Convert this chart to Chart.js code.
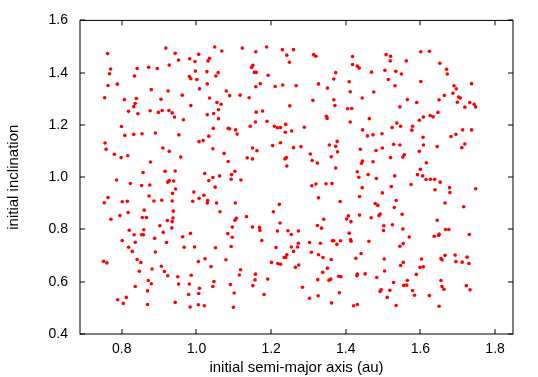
<!DOCTYPE html>
<html>
<head>
<meta charset="utf-8">
<script src="https://cdn.jsdelivr.net/npm/chart.js@4.4.1/dist/chart.umd.min.js"></script>
<style>
  html, body { margin: 0; padding: 0; background: #fff; }
  #wrap { width: 538px; height: 377px; }
</style>
</head>
<body>
<div id="wrap"><canvas id="orbitChart" width="538" height="377"></canvas></div>
<script>
// tick values for both axes
const xTicks = [0.8, 1, 1.2, 1.4, 1.6, 1.8];
const yTicks = [0.4, 0.6, 0.8, 1, 1.2, 1.4, 1.6];

// [initial semi-major axis (au), initial inclination]
const initialOrbits = [
  [0.918,1.494],[0.943,1.474],[0.762,1.473],[1.006,1.470],[0.952,1.448],[0.982,1.453],[0.996,1.443],[0.770,1.414],
  [0.841,1.416],[0.872,1.421],[0.895,1.416],[0.927,1.429],[0.767,1.396],[0.997,1.406],[0.834,1.387],[0.981,1.385],
  [0.985,1.377],[1.001,1.374],[0.788,1.356],[0.763,1.351],[1.008,1.338],[0.879,1.335],[0.924,1.330],[0.962,1.314],
  [0.754,1.304],[0.807,1.297],[0.839,1.301],[0.905,1.298],[0.836,1.282],[0.832,1.270],[0.985,1.274],[0.818,1.252],
  [0.843,1.243],[0.876,1.254],[0.898,1.248],[0.908,1.255],[0.926,1.255],[0.935,1.246],[0.941,1.230],[0.965,1.220],
  [0.799,1.194],
  [1.049,1.498],[1.123,1.494],[1.188,1.498],[1.068,1.483],[1.159,1.480],[1.230,1.488],[1.260,1.488],[1.242,1.467],
  [1.035,1.455],[1.031,1.445],[1.249,1.440],[1.151,1.428],[1.148,1.420],[1.028,1.404],[1.058,1.400],[1.155,1.401],
  [1.160,1.401],[1.052,1.387],[1.192,1.390],[1.029,1.357],[1.171,1.358],[1.159,1.346],[1.211,1.347],[1.231,1.353],
  [1.267,1.350],[1.080,1.330],[1.089,1.312],[1.117,1.314],[1.141,1.304],[1.035,1.303],[1.055,1.286],[1.066,1.279],
  [1.250,1.273],[1.059,1.258],[1.160,1.249],[1.177,1.253],[1.046,1.244],[1.029,1.239],[1.059,1.224],[1.158,1.211],
  [1.189,1.214],[1.045,1.187],[1.085,1.187],[1.089,1.185],[1.105,1.181],[1.144,1.195],[1.209,1.195],[1.217,1.189],
  [1.225,1.190],[1.239,1.202],[1.255,1.177],[1.238,1.172],[1.289,1.191],
  [1.314,1.469],[1.320,1.463],[1.418,1.462],[1.508,1.469],[1.520,1.463],[1.519,1.445],[1.562,1.445],[1.418,1.431],
  [1.431,1.425],[1.436,1.418],[1.373,1.400],[1.469,1.402],[1.505,1.409],[1.534,1.405],[1.549,1.395],[1.368,1.376],
  [1.514,1.374],[1.327,1.357],[1.409,1.365],[1.351,1.341],[1.532,1.350],[1.412,1.327],[1.475,1.326],[1.444,1.303],
  [1.312,1.294],[1.368,1.296],[1.565,1.297],[1.371,1.274],[1.545,1.269],[1.405,1.262],[1.416,1.263],[1.348,1.233],
  [1.350,1.225],[1.463,1.224],[1.412,1.211],[1.537,1.207],[1.547,1.195],[1.524,1.190],[1.445,1.181],
  [1.601,1.480],[1.624,1.482],[1.652,1.436],[1.670,1.413],[1.672,1.395],[1.601,1.366],[1.737,1.358],[1.690,1.350],
  [1.696,1.338],[1.687,1.321],[1.664,1.313],[1.650,1.296],[1.702,1.307],[1.707,1.303],[1.699,1.287],[1.590,1.286],
  [1.732,1.286],[1.744,1.279],[1.748,1.269],[1.719,1.268],[1.647,1.248],[1.626,1.236],[1.634,1.231],[1.608,1.230],
  [1.597,1.218],[1.579,1.195],[1.577,1.180],[1.713,1.181],[1.737,1.181],
  [0.808,1.160],[0.832,1.164],[0.854,1.166],[0.890,1.169],[0.953,1.162],[0.755,1.131],[0.758,1.107],[0.910,1.112],
  [0.927,1.099],[1.007,1.136],[0.780,1.088],[0.798,1.075],[0.816,1.082],[0.958,1.077],[0.877,1.058],[0.857,1.018],
  [0.916,1.023],[0.943,1.024],[0.786,0.989],[0.823,0.976],[0.853,0.968],[0.875,0.970],[0.923,0.981],[0.927,0.987],
  [0.939,0.985],[0.944,0.955],[0.936,0.938],[0.993,0.943],[0.763,0.922],[0.753,0.902],[0.801,0.906],[0.815,0.908],
  [0.873,0.928],[0.886,0.909],[0.907,0.912],[0.935,0.909],[0.990,0.908],[1.007,0.919],[0.860,0.874],[0.938,0.870],
  [0.817,0.865],[0.795,0.853],[0.771,0.839],[0.855,0.846],[0.866,0.846],[0.922,0.834],[0.935,0.830],[0.937,0.844],
  [0.902,0.814],
  [1.018,1.140],[1.033,1.157],[1.109,1.165],[1.044,1.109],[1.074,1.091],[1.085,1.060],[1.150,1.112],[1.162,1.101],
  [1.136,1.074],[1.150,1.070],[1.204,1.121],[1.225,1.132],[1.260,1.113],[1.280,1.117],[1.237,1.070],[1.241,1.075],
  [1.242,1.043],[1.022,1.014],[1.033,0.987],[1.044,0.999],[1.062,1.005],[1.094,1.010],[1.103,1.023],[1.093,0.992],
  [1.119,0.989],[1.050,0.962],[1.020,0.931],[1.030,0.911],[1.029,0.901],[1.054,0.901],[1.104,0.901],[1.063,0.868],
  [1.222,0.896],[1.206,0.868],[1.134,0.849],[1.107,0.843],[1.103,0.835],[1.224,0.825],
  [1.458,1.158],[1.473,1.162],[1.497,1.166],[1.377,1.137],[1.356,1.123],[1.373,1.118],[1.378,1.097],[1.305,1.089],
  [1.361,1.078],[1.310,1.064],[1.324,1.054],[1.439,1.107],[1.481,1.102],[1.498,1.112],[1.528,1.126],[1.545,1.123],
  [1.557,1.086],[1.553,1.077],[1.520,1.075],[1.445,1.062],[1.442,1.053],[1.473,1.059],[1.373,1.035],[1.431,1.021],
  [1.460,1.010],[1.435,1.000],[1.482,0.995],[1.531,1.005],[1.309,0.967],[1.320,0.974],[1.347,0.975],[1.363,0.976],
  [1.444,0.960],[1.498,0.940],[1.522,0.964],[1.327,0.921],[1.385,0.907],[1.437,0.926],[1.479,0.899],[1.486,0.892],
  [1.535,0.911],[1.530,0.884],[1.551,0.858],[1.407,0.852],[1.402,0.840],[1.414,0.830],[1.437,0.855],[1.468,0.845],
  [1.492,0.859],[1.489,0.853],[1.341,0.839],[1.324,0.815],[1.502,0.814],[1.525,0.818],
  [1.607,1.153],[1.682,1.156],[1.695,1.164],[1.608,1.123],[1.645,1.117],[1.597,1.099],[1.711,1.113],[1.719,1.127],
  [1.616,1.055],[1.600,1.030],[1.592,1.010],[1.606,1.005],[1.615,0.991],[1.627,0.992],[1.638,0.992],[1.653,0.981],
  [1.575,0.972],[1.639,0.952],[1.678,0.960],[1.679,0.941],[1.748,0.956],[1.666,0.901],[1.716,0.887],[1.645,0.835],
  [0.820,0.797],[0.859,0.799],[0.934,0.806],[0.833,0.780],[0.853,0.780],[0.858,0.780],[0.911,0.789],[0.984,0.785],
  [0.801,0.758],[0.836,0.751],[0.888,0.766],[0.920,0.750],[0.963,0.772],[0.818,0.732],[0.828,0.716],[0.890,0.714],
  [0.967,0.732],[0.995,0.733],[0.751,0.678],[0.760,0.672],[0.841,0.685],[0.851,0.674],[1.005,0.677],[0.847,0.640],
  [0.881,0.649],[0.906,0.659],[0.914,0.639],[0.923,0.623],[0.950,0.619],[0.986,0.625],[0.871,0.605],[0.879,0.592],
  [0.836,0.582],[0.869,0.565],[0.952,0.591],[0.981,0.591],[1.008,0.575],[0.979,0.551],[1.006,0.555],[0.812,0.540],
  [0.789,0.531],[0.804,0.517],[0.869,0.513],[0.943,0.521],[0.983,0.503],[1.005,0.512],
  [1.096,0.809],[1.150,0.809],[1.169,0.808],[1.170,0.796],[1.217,0.794],[1.245,0.795],[1.273,0.794],[1.084,0.784],
  [1.096,0.770],[1.254,0.781],[1.175,0.758],[1.051,0.730],[1.093,0.735],[1.213,0.731],[1.254,0.733],[1.271,0.733],
  [1.273,0.747],[1.260,0.716],[1.023,0.688],[1.079,0.684],[1.242,0.703],[1.235,0.693],[1.239,0.693],[1.039,0.658],
  [1.201,0.674],[1.218,0.670],[1.225,0.667],[1.274,0.664],[1.265,0.655],[1.118,0.646],[1.158,0.629],[1.115,0.626],
  [1.157,0.607],[1.191,0.610],[1.047,0.601],[1.044,0.582],[1.091,0.589],[1.151,0.585],[1.101,0.557],[1.181,0.551],
  [1.284,0.579],[1.021,0.508],[1.099,0.502],
  [1.335,0.805],[1.501,0.796],[1.553,0.802],[1.409,0.786],[1.303,0.750],[1.332,0.747],[1.364,0.757],[1.368,0.757],
  [1.386,0.757],[1.413,0.761],[1.414,0.755],[1.376,0.743],[1.462,0.755],[1.570,0.771],[1.554,0.746],[1.545,0.736],
  [1.308,0.713],[1.327,0.703],[1.339,0.693],[1.361,0.685],[1.427,0.690],[1.441,0.708],[1.503,0.687],[1.554,0.674],
  [1.547,0.662],[1.351,0.652],[1.338,0.636],[1.504,0.641],[1.431,0.629],[1.430,0.623],[1.381,0.621],[1.387,0.619],
  [1.452,0.630],[1.483,0.616],[1.325,0.608],[1.355,0.606],[1.360,0.610],[1.528,0.597],[1.565,0.605],[1.555,0.586],
  [1.563,0.587],[1.495,0.569],[1.492,0.563],[1.518,0.567],[1.383,0.558],[1.303,0.537],[1.326,0.546],[1.511,0.540],
  [1.362,0.519],[1.421,0.508],[1.431,0.513],[1.535,0.509],
  [1.667,0.800],[1.676,0.800],[1.650,0.782],[1.649,0.777],[1.637,0.774],[1.731,0.781],[1.603,0.687],[1.655,0.689],
  [1.658,0.683],[1.666,0.701],[1.693,0.702],[1.695,0.677],[1.712,0.675],[1.725,0.694],[1.730,0.670],[1.599,0.655],
  [1.608,0.657],[1.589,0.628],[1.655,0.605],[1.658,0.582],[1.663,0.571],[1.723,0.585],[1.733,0.569],[1.579,0.566],
  [1.584,0.548],[1.624,0.547],[1.650,0.506]
];

const FONT = "'Liberation Sans', Arial, sans-serif";

// gnuplot style box with inward ticks on all four sides
const framePlugin = {
  id: 'frame',
  afterDraw(chart) {
    const { ctx, chartArea: a, scales } = chart;
    const tick = 5;
    ctx.save();
    ctx.strokeStyle = '#000';
    ctx.lineWidth = 1;
    ctx.beginPath();
    xTicks.forEach(v => {
      const px = Math.round(scales.x.getPixelForValue(v));
      ctx.moveTo(px, a.bottom); ctx.lineTo(px, a.bottom - tick);
      ctx.moveTo(px, a.top); ctx.lineTo(px, a.top + tick);
    });
    yTicks.forEach(v => {
      const py = Math.round(scales.y.getPixelForValue(v));
      ctx.moveTo(a.left, py); ctx.lineTo(a.left + tick, py);
      ctx.moveTo(a.right, py); ctx.lineTo(a.right - tick, py);
    });
    ctx.stroke();
    ctx.strokeRect(a.left, a.top, a.right - a.left, a.bottom - a.top);
    ctx.restore();
  }
};

new Chart(document.getElementById('orbitChart'), {
  type: 'scatter',
  data: {
    datasets: [{
      data: initialOrbits.map(([a, inc]) => ({ x: a, y: inc })),
      backgroundColor: '#ff0000',
      borderWidth: 0,
      pointRadius: 1.8,
      pointHoverRadius: 1.8
    }]
  },
  options: {
    responsive: false,
    animation: false,
    events: [],
    layout: { padding: { top: 16, right: 25, left: 0, bottom: 0 } },
    plugins: { legend: { display: false }, tooltip: { enabled: false } },
    scales: {
      x: {
        type: 'linear',
        min: 0.688,
        max: 1.848,
        afterBuildTicks: s => { s.ticks = xTicks.map(v => ({ value: v })); },
        afterFit: s => { s.height = 43; },
        grid: { display: false, drawTicks: false },
        border: { display: false },
        ticks: { color: '#000', padding: 7, maxRotation: 0, font: { family: FONT, size: 14 } },
        title: { display: true, text: 'initial semi-major axis (au)', color: '#000',
                 padding: { top: 0, bottom: 0 }, font: { family: FONT, size: 15 } }
      },
      y: {
        type: 'linear',
        min: 0.4,
        max: 1.6,
        afterBuildTicks: s => { s.ticks = yTicks.map(v => ({ value: v })); },
        afterFit: s => { s.width = 80; },
        grid: { display: false, drawTicks: false },
        border: { display: false },
        ticks: { color: '#000', padding: 12, font: { family: FONT, size: 14 } },
        title: { display: true, text: 'initial inclination', color: '#000',
                 padding: { top: 5, bottom: 0 }, font: { family: FONT, size: 15 } }
      }
    }
  },
  plugins: [framePlugin]
});
</script>
</body>
</html>
